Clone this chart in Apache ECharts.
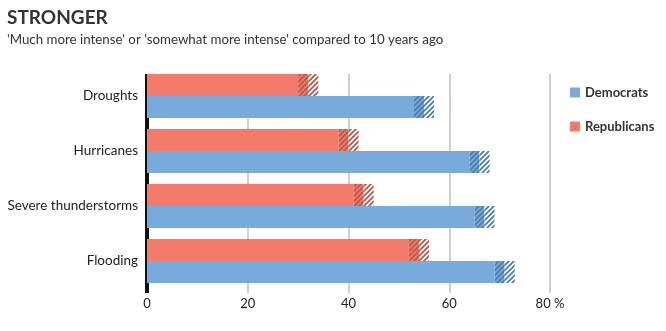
<!DOCTYPE html>
<html><head><meta charset="utf-8">
<script src="https://cdn.jsdelivr.net/npm/echarts@6/dist/echarts.min.js"></script>
<style>html,body{margin:0;padding:0;background:#fff}#c{width:666px;height:331px}</style>
</head><body><div id="c"></div>
<script>
const categories = ['Droughts', 'Hurricanes', 'Severe thunderstorms', 'Flooding'];
const demValues = [55, 66, 67, 71];
const repValues = [32, 40, 43, 54];
const demMargin = [2, 2, 2, 2];
const repMargin = [2, 2, 2, 2];
const xTickValues = [0, 20, 40, 60, 80];
const seriesNames = ['Democrats', 'Republicans'];

const FONT = 'Lato';
const DEM = '#78abdb', DEM_D = '#4e7fab';
const REP = '#f47b6a', REP_D = '#b95a4d';

function hatch(bg, stripe) {
  const s = 5, c = document.createElement('canvas');
  c.width = s; c.height = s;
  const g = c.getContext('2d');
  g.fillStyle = bg; g.fillRect(0, 0, s, s);
  g.strokeStyle = stripe; g.lineWidth = 1.9;
  g.beginPath();
  g.moveTo(-1, s + 1); g.lineTo(s + 1, -1);
  g.moveTo(-1, 1); g.lineTo(1, -1);
  g.moveTo(s - 1, s + 1); g.lineTo(s + 1, s - 1);
  g.stroke();
  return { image: c, repeat: 'repeat' };
}

function partySeries(name, vals, moe, col, dark, stack) {
  return [
    { name: name, type: 'bar', stack: stack, data: vals.map((v, i) => v - moe[i]),
      itemStyle: { color: col }, barCategoryGap: '20%', barGap: '0%' },
    { name: name + ' margin low', type: 'bar', stack: stack, data: moe.slice(),
      itemStyle: { color: hatch(col, dark) } },
    { name: name + ' margin high', type: 'bar', stack: stack, data: moe.slice(),
      itemStyle: { color: hatch('#ffffff', dark) } }
  ];
}

const chart = echarts.init(document.getElementById('c'), null, { renderer: 'canvas' });
chart.setOption({
  animation: false,
  textStyle: { fontFamily: FONT },
  title: [
    { text: 'STRONGER', left: 2, top: 3,
      textStyle: { fontFamily: FONT, fontSize: 19, fontWeight: 'bold', color: '#333' } },
    { text: "'Much more intense' or 'somewhat more intense' compared to 10 years ago", left: 2, top: 28,
      textStyle: { fontFamily: FONT, fontSize: 13.3, fontWeight: 'normal', color: '#333' } }
  ],
  legend: {
    data: seriesNames, orient: 'vertical', left: 565, top: 81,
    itemWidth: 10, itemHeight: 10, itemGap: 21, icon: 'rect',
    textStyle: { fontFamily: FONT, fontSize: 13, fontWeight: 'bold', color: '#333' }
  },
  grid: { left: 147, right: 116, top: 68.5, height: 220, containLabel: false },
  xAxis: [
    { type: 'value', min: 0, max: 80, interval: 20, position: 'bottom', offset: 4.5,
      axisLine: { show: false }, splitLine: { show: false },
      axisTick: { show: true, inside: true, length: 219, lineStyle: { color: '#cfcfcf', width: 2 } },
      axisLabel: { margin: 4, fontFamily: FONT, fontSize: 13, color: '#222',
        formatter: v => v === xTickValues[xTickValues.length - 1] ? v + ' %' : String(v) } },
    { type: 'value', min: 0, max: 80, interval: 20, position: 'top', offset: -5.5, z: 1,
      axisLine: { show: false }, splitLine: { show: false }, axisLabel: { show: false },
      axisTick: { show: true, inside: true, length: 219, customValues: [0],
        lineStyle: { color: '#111', width: 4 } } }
  ],
  yAxis: {
    type: 'category', data: categories, inverse: true,
    axisLine: { show: false }, axisTick: { show: false },
    axisLabel: { margin: 9, fontFamily: FONT, fontSize: 13.5, color: '#222' }
  },
  series: [
    ...partySeries(seriesNames[1], repValues, repMargin, REP, REP_D, 'rep'),
    ...partySeries(seriesNames[0], demValues, demMargin, DEM, DEM_D, 'dem')
  ]
});
</script></body></html>
